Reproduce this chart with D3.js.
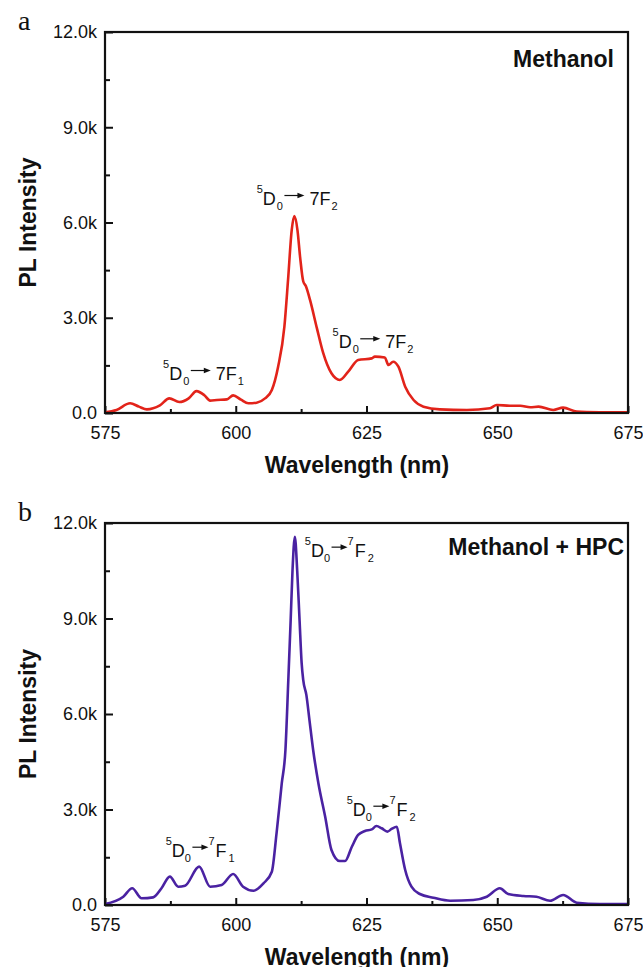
<!DOCTYPE html>
<html>
<head>
<meta charset="utf-8">
<script src="https://d3js.org/d3.v7.min.js"></script>
<style>
  body { margin: 0; background: #fff; }
  svg text { font-family: "Liberation Sans", Arial, Helvetica, sans-serif; fill: #111; }
</style>
</head>
<body>
<svg id="chart" width="643" height="967"></svg>
<script>
// PL spectra, wavelength (nm) vs intensity (counts)
var wlMethanol = [575, 577.2, 579.8, 581.5, 583, 585.5, 587.3, 589.2, 591, 592.5, 594, 595.1, 596.4, 598.3, 599.5, 601, 602.4,
  604, 605.6, 606.9, 608.1, 609.3, 610, 610.7, 611.2, 611.8, 612.3, 612.9, 613.4, 614.2, 615.5, 616.7, 618.3, 619.9,
  621.5, 623.4, 626, 626.6, 628.5, 629.2, 630.1, 631.1, 632.4, 634, 635.9, 639, 644.2, 648.6, 649.9, 652.4, 654.4,
  656.3, 657.9, 660.7, 662.6, 665.2, 669.6, 675];
var plMethanol = [20, 95, 305, 200, 115, 240, 460, 345, 460, 690, 560, 390, 410, 430, 555, 420, 305,
  325, 460, 725, 1460, 2720, 4190, 5760, 6200, 5760, 4920, 4150, 4000, 3560, 2680, 1900, 1250, 1040,
  1300, 1670, 1720, 1775, 1750, 1510, 1615, 1460, 830, 410, 200, 115, 95, 150, 250, 230, 230,
  180, 200, 95, 170, 45, 25, 20];

var wlHpc = [575, 578.5, 580.2, 582, 584.2, 585.8, 587.4, 589, 590.3, 593, 595.1, 597.3, 599.5, 601.4, 603.4, 605.3,
  606.9, 607.8, 608.8, 609.5, 610.05, 610.5, 610.85, 611.3, 611.75, 612.2, 612.6, 612.9, 613.5, 614.1, 614.8, 615.8,
  617.1, 618.3, 619.9, 620.9, 622.2, 623.4, 624.7, 626, 626.9, 627.9, 629, 629.8, 630.8, 631.4, 632.4, 633.6,
  635.2, 637.8, 641, 645.4, 648, 650.5, 652.1, 655, 657.5, 660.1, 662.6, 665.2, 669.6, 675];
var plHpc = [30, 260, 525, 210, 240, 525, 890, 575, 605, 1205, 575, 630, 975, 575, 450, 680,
  1045, 2250, 3825, 4870, 7070, 8950, 10500, 11570, 10500, 8950, 7600, 7070, 6600, 5800, 4870, 3825,
  2775, 1730, 1380, 1380, 1830, 2200, 2325, 2375, 2480, 2410, 2305, 2390, 2460, 1940, 1100, 575,
  345, 230, 135, 157, 260, 525, 345, 283, 260, 135, 315, 73, 30, 30];

var xTicks = [575, 600, 625, 650, 675];
var xMinor = [587.5, 612.5, 637.5, 662.5];
var yTicks = [0, 3000, 6000, 9000, 12000];
var yMinor = [1500, 4500, 7500, 10500];

// transition labels: anchor (wavelength, intensity) and final level
var notesMethanol = [
  { w: 604.0, v: 6551, sub: "2" },
  { w: 618.5, v: 2038, sub: "2" },
  { w: 586.1, v: 1039, sub: "1" }
];
var notesHpc = [
  { w: 613.2, v: 10943, sub: "2" },
  { w: 621.2, v: 2805, sub: "2" },
  { w: 586.6, v: 1517, sub: "1" }
];

var svg = d3.select("#chart");

function fmt(d) {
  return d === 0 ? "0.0" : (d / 1000).toFixed(1) + "k";
}

function note(g, x, y, parts) {
  var cx = x;
  parts.forEach(function(p) {
    if (p.k === "arrow") {
      cx += 1.5;
      var ay = y - 9.5;
      g.append("line")
        .attr("x1", cx).attr("x2", cx + p.len - 5)
        .attr("y1", ay).attr("y2", ay)
        .attr("stroke", "#111").attr("stroke-width", 1.2);
      g.append("path")
        .attr("d", "M" + (cx + p.len) + "," + ay + "l-7,-2.8l0,5.6z")
        .attr("fill", "#111");
      cx += p.len + p.after;
      return;
    }
    var small = p.k === "sup" || p.k === "sub";
    var dy = p.k === "sup" ? -12 : (p.k === "sub" ? 5 : 0);
    var t = g.append("text")
      .attr("x", cx).attr("y", y + dy)
      .attr("font-size", small ? 11 : 18)
      .text(p.t);
    cx += t.node().getComputedTextLength() + (p.gap || 0);
  });
}

function panel(opt) {
  var x = d3.scaleLinear().domain([575, 675]).range([105, 628]);
  var y = d3.scaleLinear().domain([0, 12000]).range([opt.bottom, opt.top]);
  var g = svg.append("g");

  // y ticks (inward)
  g.append("g")
    .attr("transform", "translate(105,0)")
    .call(d3.axisLeft(y).tickValues(yTicks).tickSize(-8).tickPadding(8).tickFormat(fmt))
    .call(function(a) {
      a.select(".domain").remove();
      a.selectAll("line").attr("stroke", "#111").attr("stroke-width", 2);
      a.selectAll("text").attr("font-size", 18).attr("font-family", null).attr("fill", "#111");
    });
  g.append("g")
    .attr("transform", "translate(105,0)")
    .call(d3.axisLeft(y).tickValues(yMinor).tickSize(-5).tickFormat(""))
    .call(function(a) {
      a.select(".domain").remove();
      a.selectAll("line").attr("stroke", "#111").attr("stroke-width", 2);
    });

  // x ticks (inward)
  g.append("g")
    .attr("transform", "translate(0," + opt.bottom + ")")
    .call(d3.axisBottom(x).tickValues(xTicks).tickSize(-7).tickPadding(13).tickFormat(d3.format("d")))
    .call(function(a) {
      a.select(".domain").remove();
      a.selectAll("line").attr("stroke", "#111").attr("stroke-width", 2);
      a.selectAll("text").attr("font-size", 18).attr("font-family", null).attr("fill", "#111");
    });
  g.append("g")
    .attr("transform", "translate(0," + opt.bottom + ")")
    .call(d3.axisBottom(x).tickValues(xMinor).tickSize(-4).tickFormat(""))
    .call(function(a) {
      a.select(".domain").remove();
      a.selectAll("line").attr("stroke", "#111").attr("stroke-width", 2);
    });

  // spectrum
  var pts = opt.wl.map(function(w, i) { return [w, opt.pl[i]]; });
  g.append("path")
    .datum(pts)
    .attr("fill", "none")
    .attr("stroke", opt.color)
    .attr("stroke-width", 2.6)
    .attr("stroke-linejoin", "round")
    .attr("d", d3.line()
      .x(function(d) { return x(d[0]); })
      .y(function(d) { return y(d[1]); })
      .curve(d3.curveMonotoneX));

  // frame
  g.append("rect")
    .attr("x", 105).attr("y", opt.top)
    .attr("width", 523).attr("height", opt.bottom - opt.top)
    .attr("fill", "none").attr("stroke", "#111").attr("stroke-width", 2.2);

  // transition labels
  opt.notes.forEach(function(n) {
    var parts;
    if (opt.supSeven) {
      parts = [{ t: "5", k: "sup" }, { t: "D" }, { t: "0", k: "sub" }, { k: "arrow", len: 16, after: 0 },
        { t: "7", k: "sup", gap: 1 }, { t: "F", gap: 2 }, { t: n.sub, k: "sub" }];
    } else {
      parts = [{ t: "5", k: "sup" }, { t: "D", gap: 1 }, { t: "0", k: "sub" }, { k: "arrow", len: 20, after: 5 },
        { t: "7F", gap: 1 }, { t: n.sub, k: "sub" }];
    }
    note(g, x(n.w), y(n.v), parts);
  });

  // titles
  g.append("text")
    .attr("x", opt.titleX).attr("y", opt.top + opt.titleDy)
    .attr("text-anchor", "end")
    .attr("font-size", 23).attr("font-weight", "bold")
    .text(opt.title);

  g.append("text")
    .attr("transform", "translate(36," + (opt.top + opt.bottom) / 2 + ") rotate(-90)")
    .attr("text-anchor", "middle")
    .attr("font-size", 23).attr("font-weight", "bold")
    .text("PL Intensity");

  g.append("text")
    .attr("x", 357).attr("y", opt.bottom + 60)
    .attr("text-anchor", "middle")
    .attr("font-size", 23).attr("font-weight", "bold")
    .text("Wavelength (nm)");

  g.append("text")
    .attr("x", 18).attr("y", opt.top - 2)
    .attr("font-family", "'Liberation Serif', 'Times New Roman', serif")
    .attr("font-size", 28)
    .style("font-family", "'Liberation Serif', 'Times New Roman', serif")
    .text(opt.tag);
}

panel({ top: 32, bottom: 413, wl: wlMethanol, pl: plMethanol, color: "#e2231a", notes: notesMethanol,
  supSeven: false, title: "Methanol", titleX: 614, titleDy: 35, tag: "a" });
panel({ top: 523, bottom: 905, wl: wlHpc, pl: plHpc, color: "#4a22a2", notes: notesHpc,
  supSeven: true, title: "Methanol + HPC", titleX: 624, titleDy: 32, tag: "b" });
</script>
</body>
</html>
